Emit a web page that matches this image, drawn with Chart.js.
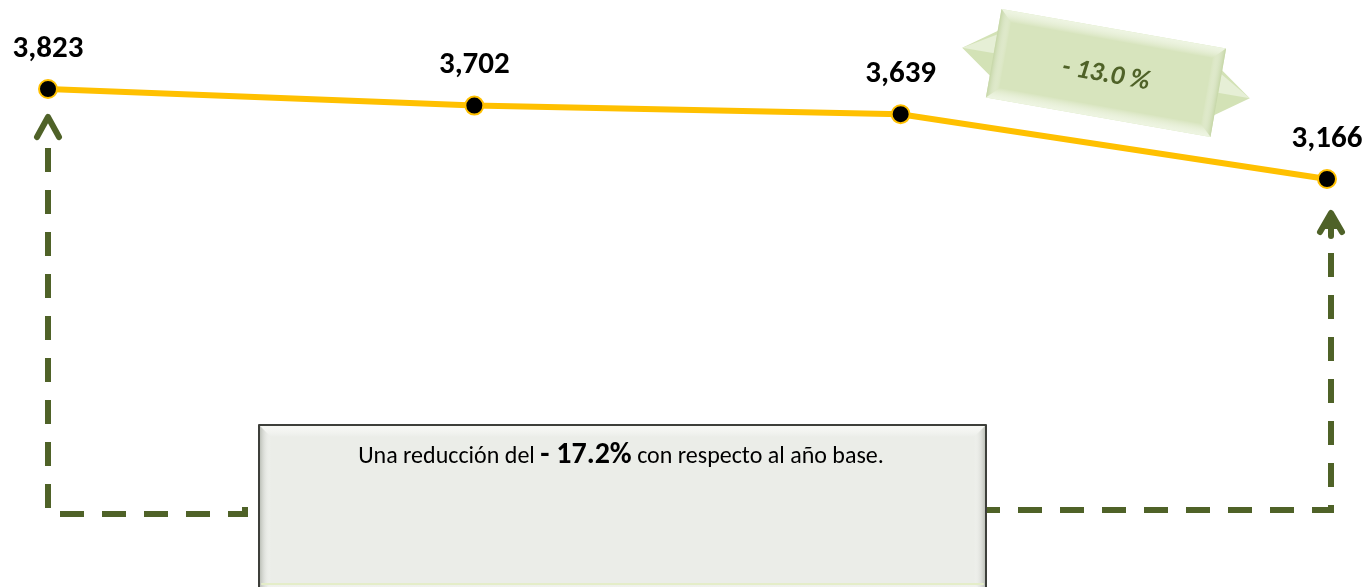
<!DOCTYPE html>
<html>
<head>
<meta charset="utf-8">
<script src="https://cdn.jsdelivr.net/npm/chart.js@4"></script>
<style>
  html, body { margin: 0; padding: 0; background: #fff; }
  #wrap { width: 1372px; height: 587px; }
</style>
</head>
<body>
<div id="wrap"><canvas id="myChart" width="1372" height="587"></canvas></div>
<script>
// data
var years = ['Año base', 'Año 2', 'Año 3', 'Año 4'];
var emissions = [3823, 3702, 3639, 3166];
var labelTexts = ['3,823', '3,702', '3,639', '3,166'];
var changeLast = '- 13.0 %';
var changeTotal = '- 17.2%';

var FONT = 'Carlito, Calibri, Lato, "Open Sans", sans-serif';
var OLIVE = '#4F6228';

function bevelBox(ctx, x, y, w, h, base, light, dark, edge) {
  ctx.fillStyle = base;
  ctx.fillRect(x, y, w, h);
  var b = 12;
  // top
  var g = ctx.createLinearGradient(0, y, 0, y + b);
  g.addColorStop(0, light); g.addColorStop(1, 'rgba(255,255,255,0)');
  ctx.fillStyle = g;
  ctx.beginPath(); ctx.moveTo(x, y); ctx.lineTo(x + w, y); ctx.lineTo(x + w - b, y + b); ctx.lineTo(x + b, y + b); ctx.closePath(); ctx.fill();
  // left
  g = ctx.createLinearGradient(x, 0, x + b, 0);
  g.addColorStop(0, dark); g.addColorStop(1, 'rgba(255,255,255,0)');
  ctx.fillStyle = g;
  ctx.beginPath(); ctx.moveTo(x, y); ctx.lineTo(x + b, y + b); ctx.lineTo(x + b, y + h - b); ctx.lineTo(x, y + h); ctx.closePath(); ctx.fill();
  // right
  g = ctx.createLinearGradient(x + w, 0, x + w - b, 0);
  g.addColorStop(0, dark); g.addColorStop(1, 'rgba(255,255,255,0)');
  ctx.fillStyle = g;
  ctx.beginPath(); ctx.moveTo(x + w, y); ctx.lineTo(x + w - b, y + b); ctx.lineTo(x + w - b, y + h - b); ctx.lineTo(x + w, y + h); ctx.closePath(); ctx.fill();
  // bottom
  g = ctx.createLinearGradient(0, y + h, 0, y + h - b);
  g.addColorStop(0, light); g.addColorStop(1, 'rgba(255,255,255,0)');
  ctx.fillStyle = g;
  ctx.beginPath(); ctx.moveTo(x, y + h); ctx.lineTo(x + w, y + h); ctx.lineTo(x + w - b, y + h - b); ctx.lineTo(x + b, y + h - b); ctx.closePath(); ctx.fill();
  if (edge) {
    ctx.strokeStyle = edge; ctx.lineWidth = 2;
    ctx.strokeRect(x, y, w, h);
  }
}

var decorations = {
  id: 'decorations',
  beforeDatasetsDraw: function(chart) {
    var ctx = chart.ctx;
    var pts = chart.getDatasetMeta(0).data;
    var xl = pts[0].x, xr = pts[pts.length - 1].x + 4;
    ctx.save();
    // dashed connectors
    ctx.strokeStyle = OLIVE;
    ctx.lineWidth = 6;
    ctx.lineCap = 'butt';
    ctx.setLineDash([24, 18]);
    ctx.beginPath();
    ctx.moveTo(xl, 148); ctx.lineTo(xl, 514); ctx.lineTo(245, 514); ctx.lineTo(245, 504);
    ctx.stroke();
    ctx.beginPath();
    ctx.moveTo(xr, 253); ctx.lineTo(xr, 510); ctx.lineTo(977, 510);
    ctx.stroke();
    ctx.setLineDash([]);
    // arrow heads
    ctx.lineCap = 'round'; ctx.lineJoin = 'round';
    ctx.beginPath();
    ctx.moveTo(xl - 11, 137); ctx.lineTo(xl, 117); ctx.lineTo(xl + 11, 137);
    ctx.stroke();
    ctx.beginPath();
    ctx.moveTo(xr - 11, 232); ctx.lineTo(xr, 213); ctx.lineTo(xr + 11, 232);
    ctx.moveTo(xr, 215); ctx.lineTo(xr, 236);
    ctx.stroke();
    ctx.fillStyle = OLIVE;
    ctx.beginPath(); ctx.moveTo(xr, 214); ctx.lineTo(xr - 7, 229); ctx.lineTo(xr + 7, 229); ctx.closePath(); ctx.fill();

    // text box
    bevelBox(ctx, 259, 425, 727, 170, '#EBEDE8', '#F7F8F4', '#B3B7AE', '#3D3F3A');
    ctx.strokeStyle = '#E4EDC8'; ctx.lineWidth = 2;
    ctx.beginPath(); ctx.moveTo(262, 584); ctx.lineTo(983, 584); ctx.stroke();
    var parts = [
      { t: 'Una reducción del ', f: '24px ' + FONT },
      { t: changeTotal, f: 'bold 30px ' + FONT },
      { t: ' con respecto al año base.', f: '24px ' + FONT }
    ];
    var total = 0;
    parts.forEach(function(p) { ctx.font = p.f; p.w = ctx.measureText(p.t).width; total += p.w; });
    var tx = 621 - total / 2;
    ctx.fillStyle = '#000';
    ctx.textBaseline = 'alphabetic';
    ctx.textAlign = 'left';
    parts.forEach(function(p) { ctx.font = p.f; ctx.fillText(p.t, tx, 463); tx += p.w; });

    // double arrow with last change
    ctx.translate(1106, 73);
    ctx.rotate(10 * Math.PI / 180);
    ctx.fillStyle = '#D3E2B6';
    ctx.beginPath();
    ctx.moveTo(-146, 0); ctx.lineTo(-108, -27); ctx.lineTo(-108, 27); ctx.closePath();
    ctx.moveTo(146, 0); ctx.lineTo(108, -27); ctx.lineTo(108, 27); ctx.closePath();
    ctx.fill();
    ctx.fillStyle = '#E6EFD6';
    ctx.beginPath();
    ctx.moveTo(-146, 0); ctx.lineTo(-112, -20); ctx.lineTo(-112, 0); ctx.closePath();
    ctx.moveTo(146, 0); ctx.lineTo(112, -20); ctx.lineTo(112, 0); ctx.closePath();
    ctx.fill();
    bevelBox(ctx, -114, -45, 228, 90, '#D7E4BD', '#EEF5E2', '#C5D6A6', null);
    ctx.fillStyle = OLIVE;
    ctx.font = 'italic bold 27px ' + FONT;
    ctx.textAlign = 'center';
    ctx.textBaseline = 'middle';
    ctx.fillText(changeLast, 0, 2);
    ctx.restore();
  },
  afterDatasetsDraw: function(chart) {
    var ctx = chart.ctx;
    var pts = chart.getDatasetMeta(0).data;
    ctx.save();
    ctx.fillStyle = '#000';
    ctx.font = 'bold 31px ' + FONT;
    ctx.textAlign = 'center';
    ctx.textBaseline = 'middle';
    pts.forEach(function(p, i) {
      ctx.fillText(labelTexts[i], p.x, p.y - 40);
    });
    ctx.restore();
  }
};

var ctx = document.getElementById('myChart').getContext('2d');
var chart = new Chart(ctx, {
  type: 'line',
  data: {
    labels: years,
    datasets: [{
      data: emissions,
      borderColor: '#FFC000',
      borderWidth: 6,
      pointBackgroundColor: '#000',
      pointBorderColor: '#FFC000',
      pointBorderWidth: 2,
      pointRadius: 9,
      tension: 0,
      fill: false,
      clip: false
    }]
  },
  options: {
    responsive: false,
    animation: false,
    layout: { autoPadding: false, padding: { left: 48, right: 45, top: 0, bottom: 0 } },
    plugins: { legend: { display: false }, tooltip: { enabled: false } },
    scales: {
      x: { display: false, offset: false },
      y: { display: false, min: 187.4, max: 4472.7 }
    }
  },
  plugins: [decorations]
});
</script>
</body>
</html>
